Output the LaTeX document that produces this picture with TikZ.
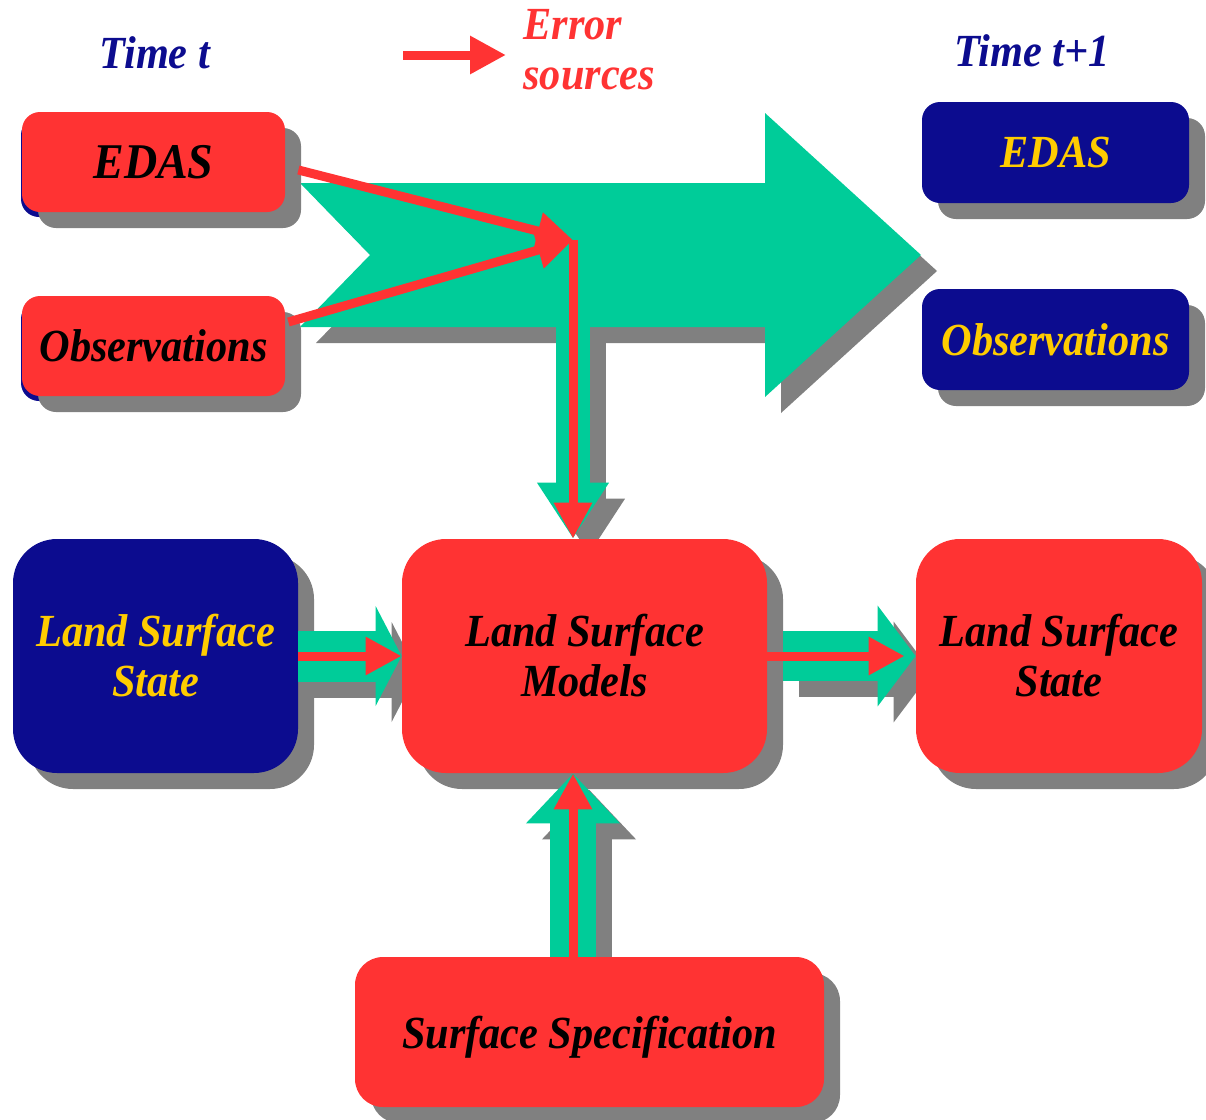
\documentclass[tikz,border=0pt]{standalone}
\usepackage{fontspec}
\setmainfont{Liberation Serif}[FakeStretch=0.92]
\usetikzlibrary{arrows.meta,shadows,positioning}

\definecolor{boxred}{HTML}{FF3333}
\definecolor{boxnavy}{HTML}{0C0C8F}
\definecolor{flowgreen}{HTML}{00CC99}
\definecolor{textgold}{HTML}{FFCC00}
\definecolor{dropgray}{HTML}{808080}

\pgfdeclarelayer{back}
\pgfsetlayers{back,main}

\newcommand{\boxfont}{\fontsize{23}{25}\selectfont\bfseries\itshape}

\tikzset{
  box/.style={rounded corners=#1, inner sep=0pt, align=center, font=\boxfont,
    drop shadow={shadow xshift=8pt, shadow yshift=-8pt, fill=dropgray, opacity=1}},
  redbox/.style={box=#1, fill=boxred, text=black},
  bluebox/.style={box=#1, fill=boxnavy, text=textgold},
  rim/.style={general shadow={shadow xshift=-0.5pt, shadow yshift=-2.5pt, fill=boxnavy}},
  title/.style={text=boxnavy, font=\boxfont, inner sep=0pt},
  fat/.style={draw=flowgreen, line width=#1},
  fatshade/.style={draw=dropgray, line width=#1, transform canvas={shift={(8pt,-8pt)}}},
  errline/.style={draw=boxred, line width=4.5pt, -{Triangle[length=18pt,width=18pt]}}
}

\begin{document}
\begin{tikzpicture}[x=0.5pt,y=-0.5pt]
    \useasboundingbox (0,0) rectangle (1206,1120);

    % big flow arrow, time t -> t+1
    \fill[dropgray, shift={(16,16)}] (300,183) -- (765,183) -- (765,113) -- (921,255) -- (765,397)
        -- (765,327) -- (300,327) -- (370,255) -- cycle;
    \fill[flowgreen] (300,183) -- (765,183) -- (765,113) -- (921,255) -- (765,397)
        -- (765,327) -- (300,327) -- (370,255) -- cycle;
    \coordinate (junction) at (573,240);
    \coordinate (armbase) at (573,327);

    % titles and legend
    \node[title, anchor=base] (tnow) at (155,68) {Time t};
    \node[title, anchor=base] (tnext) at (1032,66) {Time t+1};
    \coordinate (legA) at (403,55);
    \coordinate (legB) at (506,55);
    \draw[errline] (legA) -- (legB);
    \node[anchor=north west, inner sep=0pt, align=left, text=boxred, font=\boxfont] (errtxt) at (523,9) {Error\\sources};

    % boxes
    \node[rim, redbox=9pt, minimum width=131.5pt, minimum height=50pt,
        font=\fontsize{25}{27}\selectfont\bfseries\itshape] (edasL) at (153.5,162) {EDAS};
    \node[rim, redbox=9pt, minimum width=131.5pt, minimum height=50pt] (obsL) at (153.5,346) {Observations};
    \node[bluebox=9pt, minimum width=133.5pt, minimum height=50.5pt] (edasR) at (1055.5,152.5) {EDAS};
    \node[bluebox=9pt, minimum width=133.5pt, minimum height=50.5pt] (obsR) at (1055.5,339.5) {Observations};
    \node[bluebox=22pt, minimum width=142.5pt, minimum height=117pt] (stateL) at (155.5,656) {Land Surface\\State};
    \node[redbox=22pt, minimum width=182.5pt, minimum height=117pt] (models) at (584.5,656) {Land Surface\\Models};
    \node[redbox=22pt, minimum width=143pt, minimum height=117pt] (stateR) at (1059,656) {Land Surface\\State};
    \node[redbox=14pt, minimum width=234.5pt, minimum height=75pt, text depth=0pt] (spec) at (589.5,1032) {Surface Specification};

    % shadows of the flow arrows
    \begin{pgfonlayer}{back}
        \draw[fatshade=17pt, -{Triangle[length=28pt,width=34pt]}] (armbase) -- (junction |- models.north);
        \draw[fatshade=25.5pt, -{Triangle[length=13pt,width=49.5pt]}] (stateL.east) -- (models.west);
        \draw[fatshade=25pt, -{Triangle[length=19pt,width=49.5pt]}] ([xshift=8pt]models.east) -- (stateR.west);
        \draw[fatshade=23pt, -{Triangle[length=25pt,width=45.5pt]}] (junction |- spec.north) -- (junction |- models.south);
    \end{pgfonlayer}

    % flow arrows
    \draw[fat=17pt, -{Triangle[length=28pt,width=34pt]}] (armbase) -- (junction |- models.north);
    \draw[fat=25.5pt, -{Triangle[length=13pt,width=49.5pt]}] (stateL.east) -- (models.west);
    \draw[fat=25pt, -{Triangle[length=19pt,width=49.5pt]}] ([xshift=8pt]models.east) -- (stateR.west);
    \draw[fat=23pt, -{Triangle[length=25pt,width=45.5pt]}] (junction |- spec.north) -- (junction |- models.south);

    % error sources
    \draw[errline] ([xshift=6.5pt,yshift=-4pt]edasL.east) -- (junction);
    \draw[errline] ([xshift=1.5pt,yshift=12pt]obsL.east) -- (junction);
    \draw[errline] (junction) -- (junction |- models.north);
    \draw[errline] (stateL.east) -- (models.west);
    \draw[errline] (models.east) -- ([xshift=-5.5pt]stateR.west);
    \draw[errline] (junction |- spec.north) -- (junction |- models.south);
\end{tikzpicture}
\end{document}
